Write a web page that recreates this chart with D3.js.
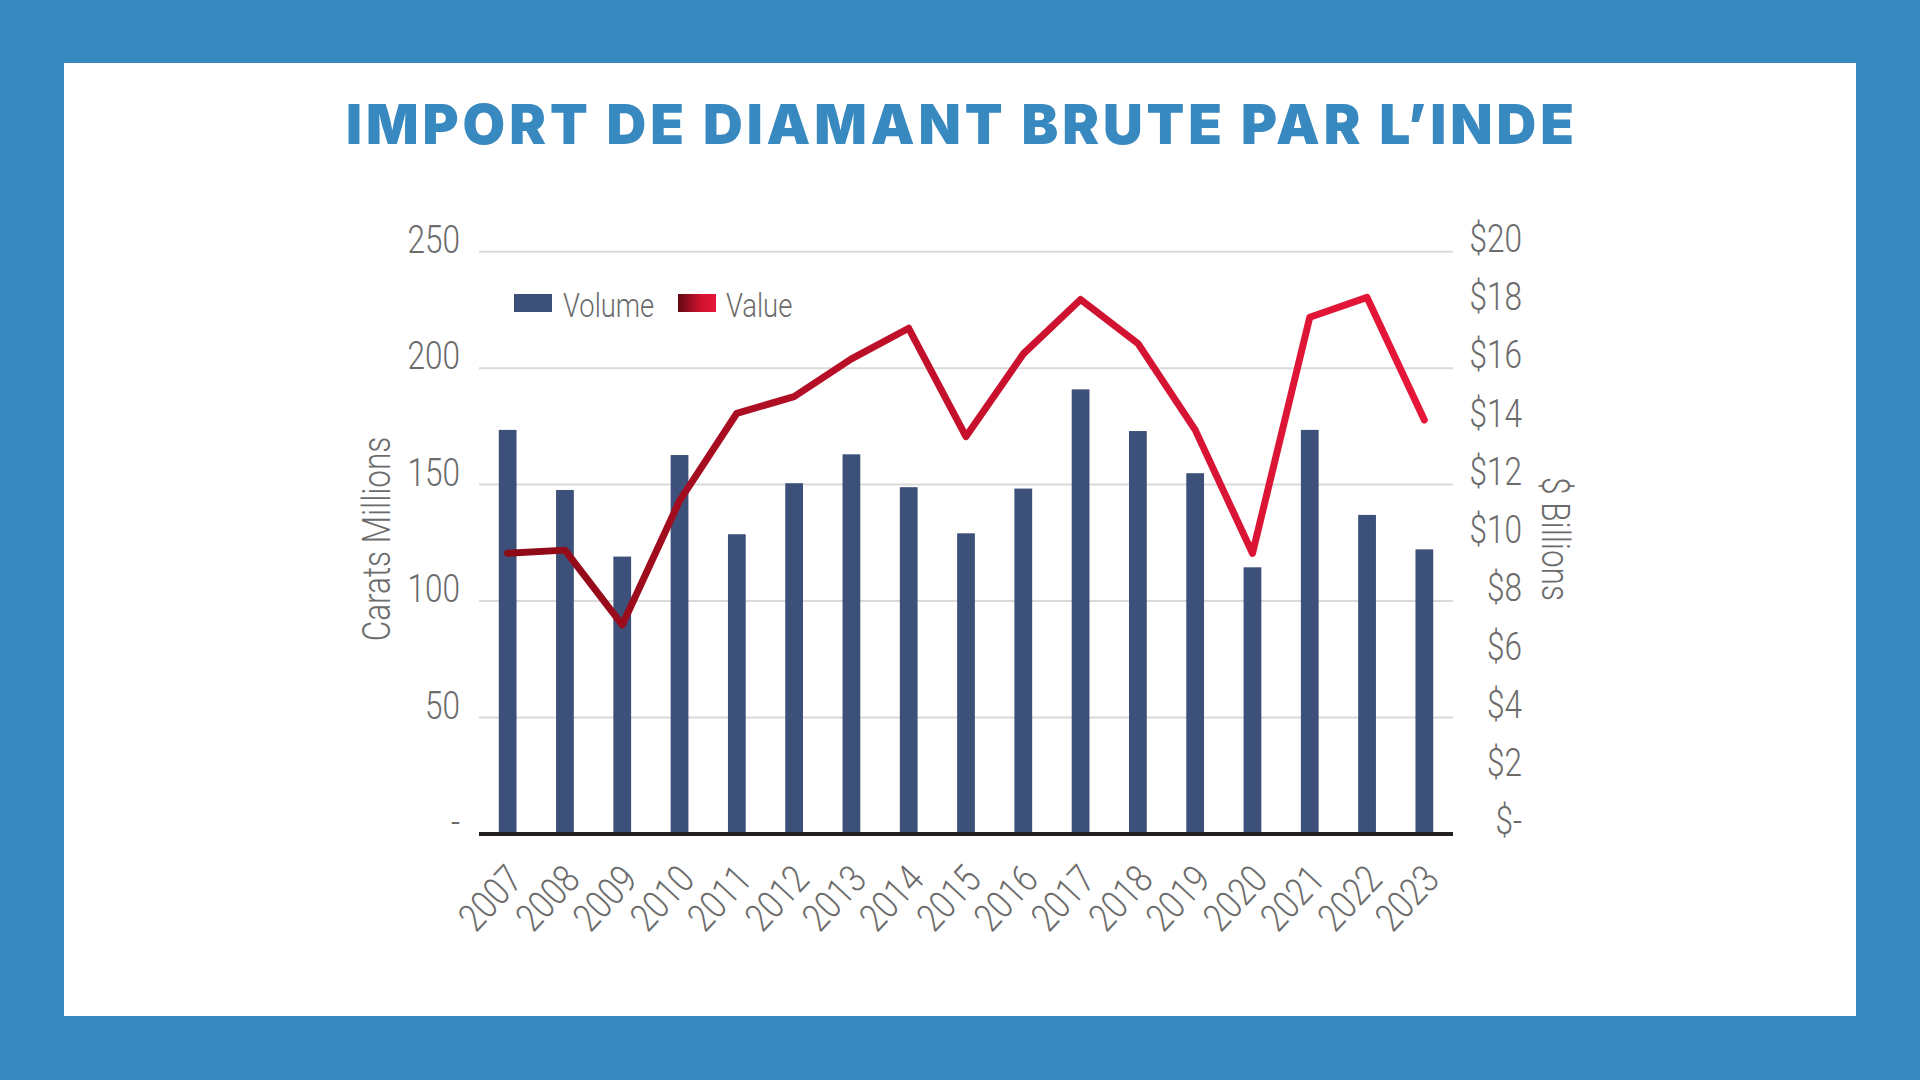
<!DOCTYPE html>
<html>
<head>
<meta charset="utf-8">
<script src="https://cdn.jsdelivr.net/npm/d3@7"></script>
<style>
  body { margin: 0; background: #3889c0; }
  svg { display: block; }
  .tick-label { font-family: Roboto, "Open Sans", sans-serif; font-weight: 300; fill: #6b6b6b; }
</style>
</head>
<body>
<svg id="chart" width="1920" height="1080"></svg>
<script>
const years = ["2007", "2008", "2009", "2010", "2011", "2012", "2013", "2014", "2015",
               "2016", "2017", "2018", "2019", "2020", "2021", "2022", "2023"];
const volume = [173.5, 147.7, 119.1, 162.7, 128.7, 150.6, 163.0, 148.9, 129.1,
                148.3, 190.9, 173.0, 154.9, 114.5, 173.5, 137.0, 122.2];
const value = [9.64, 9.75, 7.18, 11.44, 14.45, 15.02, 16.32, 17.37, 13.65,
               16.49, 18.36, 16.85, 13.88, 9.64, 17.75, 18.43, 14.22];
const leftTicks = [0, 50, 100, 150, 200, 250];
const rightTicks = [0, 2, 4, 6, 8, 10, 12, 14, 16, 18, 20];

const svg = d3.select("#chart");
const W = 1920, H = 1080;
const plot = {left: 479, right: 1453, top: 251.7, bottom: 834};
const squeeze = 0.83; // condensed look for the gray labels

svg.append("rect").attr("width", W).attr("height", H).attr("fill", "#3889c0");
svg.append("rect").attr("x", 64).attr("y", 63).attr("width", 1792).attr("height", 953).attr("fill", "#fff");

// title
svg.append("text")
    .attr("x", 960).attr("y", 144)
    .attr("text-anchor", "middle")
    .attr("textLength", 1228).attr("lengthAdjust", "spacing")
    .style("font-family", "Inter, Lato, sans-serif")
    .style("font-weight", 900)
    .style("font-size", "55px")
    .style("fill", "#3889c0")
    .text("IMPORT DE DIAMANT BRUTE PAR L’INDE");

const x = d3.scaleBand().domain(years)
    .range([plot.left, plot.right])
    .paddingInner(0.69).paddingOuter(0.345);
const y = d3.scaleLinear().domain([0, 250]).range([plot.bottom, plot.top]);
const yR = d3.scaleLinear().domain([0, 20]).range([plot.bottom, plot.top]);

const defs = svg.append("defs");
const lg = defs.append("linearGradient").attr("id", "lineGrad")
    .attr("gradientUnits", "userSpaceOnUse")
    .attr("x1", x(years[0])).attr("x2", x(years[years.length - 1]) + x.bandwidth())
    .attr("y1", 0).attr("y2", 0);
lg.append("stop").attr("offset", "0%").attr("stop-color", "#8a0a15");
lg.append("stop").attr("offset", "45%").attr("stop-color", "#c3102b");
lg.append("stop").attr("offset", "100%").attr("stop-color", "#e8173a");
const sg = defs.append("linearGradient").attr("id", "swatchGrad");
sg.append("stop").attr("offset", "0%").attr("stop-color", "#5e0910");
sg.append("stop").attr("offset", "60%").attr("stop-color", "#d0122f");
sg.append("stop").attr("offset", "100%").attr("stop-color", "#e8173a");

// gridlines
svg.append("g").selectAll("line")
    .data(leftTicks.filter(d => d > 0))
    .join("line")
    .attr("x1", plot.left).attr("x2", plot.right)
    .attr("y1", d => y(d)).attr("y2", d => y(d))
    .attr("stroke", "#d9d9d9").attr("stroke-width", 2);

// left axis labels
svg.append("g").selectAll("text")
    .data(leftTicks)
    .join("text")
    .attr("class", "tick-label")
    .attr("transform", d => `translate(460,${y(d) - 12}) scale(${squeeze},1)`)
    .attr("dy", "0.35em")
    .attr("text-anchor", "end")
    .style("font-size", "38px")
    .text(d => d === 0 ? "-" : d);

// right axis labels
svg.append("g").selectAll("text")
    .data(rightTicks)
    .join("text")
    .attr("class", "tick-label")
    .attr("transform", d => `translate(1522,${yR(d) - 13}) scale(${squeeze},1)`)
    .attr("dy", "0.35em")
    .attr("text-anchor", "end")
    .style("font-size", "38px")
    .text(d => d === 0 ? "$-" : "$" + d);

// axis titles
svg.append("text")
    .attr("class", "tick-label")
    .attr("transform", `translate(377,539) rotate(-90) scale(${squeeze},1)`)
    .attr("text-anchor", "middle").attr("dy", "0.35em")
    .style("font-size", "38px")
    .text("Carats Millions");
svg.append("text")
    .attr("class", "tick-label")
    .attr("transform", `translate(1555,539) rotate(90) scale(${squeeze},1)`)
    .attr("text-anchor", "middle").attr("dy", "0.35em")
    .style("font-size", "38px")
    .text("$ Billions");

// bars
svg.append("g").selectAll("rect")
    .data(years)
    .join("rect")
    .attr("x", d => x(d))
    .attr("y", (d, i) => y(volume[i]))
    .attr("width", x.bandwidth())
    .attr("height", (d, i) => y(0) - y(volume[i]))
    .attr("fill", "#3c5079");

// baseline
svg.append("line")
    .attr("x1", plot.left).attr("x2", plot.right)
    .attr("y1", plot.bottom).attr("y2", plot.bottom)
    .attr("stroke", "#231f20").attr("stroke-width", 4);

// value line
const line = d3.line()
    .x((d, i) => x(years[i]) + x.bandwidth() / 2)
    .y(d => yR(d));
svg.append("path")
    .datum(value)
    .attr("d", line)
    .attr("fill", "none")
    .attr("stroke", "url(#lineGrad)")
    .attr("stroke-width", 7)
    .attr("stroke-linejoin", "round")
    .attr("stroke-linecap", "round");

// x labels
svg.append("g").selectAll("text")
    .data(years)
    .join("text")
    .attr("class", "tick-label")
    .attr("text-anchor", "end")
    .attr("transform", d => `translate(${x(d) + x.bandwidth() / 2 + 17},881) rotate(-47) scale(${squeeze},1)`)
    .style("font-size", "39px")
    .text(d => d);

// legend
const legend = svg.append("g");
legend.append("rect").attr("x", 514).attr("y", 294).attr("width", 38).attr("height", 18).attr("fill", "#3c5079");
legend.append("text").attr("class", "tick-label")
    .attr("transform", `translate(563,305) scale(${squeeze},1)`).attr("dy", "0.35em")
    .style("font-size", "33px").text("Volume");
legend.append("rect").attr("x", 678).attr("y", 294).attr("width", 38).attr("height", 18).attr("fill", "url(#swatchGrad)");
legend.append("text").attr("class", "tick-label")
    .attr("transform", `translate(726,305) scale(${squeeze},1)`).attr("dy", "0.35em")
    .style("font-size", "33px").text("Value");
</script>
</body>
</html>
